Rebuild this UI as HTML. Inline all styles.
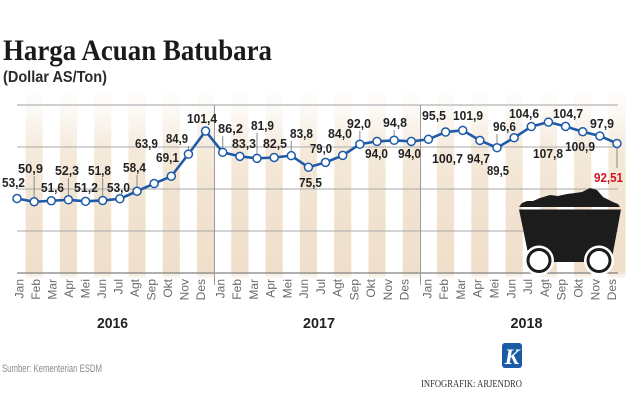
<!DOCTYPE html>
<html><head><meta charset="utf-8"><style>html,body{margin:0;padding:0;background:#fff}svg{display:block}</style></head>
<body>
<svg width="630" height="418" viewBox="0 0 630 418" xmlns="http://www.w3.org/2000/svg" font-family="'Liberation Sans', sans-serif">
<defs>
<linearGradient id="st" gradientUnits="userSpaceOnUse" x1="0" y1="92" x2="0" y2="278">
<stop offset="0" stop-color="#f6ecdf" stop-opacity="0.05"/>
<stop offset="0.15" stop-color="#f6ecdf" stop-opacity="0.5"/>
<stop offset="0.32" stop-color="#f4e7d6" stop-opacity="0.9"/>
<stop offset="0.55" stop-color="#f2e4d2"/>
<stop offset="0.96" stop-color="#efdfca"/>
<stop offset="1" stop-color="#efdfca" stop-opacity="0.2"/>
</linearGradient>
</defs>
<rect width="630" height="418" fill="#fff"/>

<!-- Title -->
<text x="3" y="60" font-family="'Liberation Serif', serif" font-weight="bold" font-size="30" fill="#1a1a1a" textLength="269" lengthAdjust="spacingAndGlyphs">Harga Acuan Batubara</text>
<text x="3" y="82" font-weight="bold" font-size="16" fill="#2a2a2a" textLength="104" lengthAdjust="spacingAndGlyphs">(Dollar AS/Ton)</text>

<!-- stripes -->
<g fill="url(#st)">
<rect x="25.57" y="92" width="17.14" height="186"/>
<rect x="59.86" y="92" width="17.14" height="186"/>
<rect x="94.14" y="92" width="17.14" height="186"/>
<rect x="128.43" y="92" width="17.14" height="186"/>
<rect x="162.72" y="92" width="17.14" height="186"/>
<rect x="197" y="92" width="17.14" height="186"/>
<rect x="231.29" y="92" width="17.14" height="186"/>
<rect x="265.57" y="92" width="17.14" height="186"/>
<rect x="299.86" y="92" width="17.14" height="186"/>
<rect x="334.14" y="92" width="17.14" height="186"/>
<rect x="368.43" y="92" width="17.14" height="186"/>
<rect x="402.72" y="92" width="17.14" height="186"/>
<rect x="437" y="92" width="17.14" height="186"/>
<rect x="471.29" y="92" width="17.14" height="186"/>
<rect x="505.57" y="92" width="17.14" height="186"/>
<rect x="539.86" y="92" width="17.14" height="186"/>
<rect x="574.14" y="92" width="17.14" height="186"/>
<rect x="608.43" y="92" width="17.14" height="186"/>
</g>

<!-- gridlines -->
<line x1="17" y1="105" x2="618" y2="105" stroke="#cfcfcf" stroke-width="2"/>
<line x1="17" y1="147" x2="618" y2="147" stroke="#a8a8a8" stroke-width="1"/>
<line x1="17" y1="189" x2="618" y2="189" stroke="#a8a8a8" stroke-width="1"/>
<line x1="17" y1="231" x2="618" y2="231" stroke="#a8a8a8" stroke-width="1"/>
<line x1="17" y1="273" x2="618" y2="273" stroke="#808080" stroke-width="1.2"/>

<!-- year dividers -->
<line x1="214.5" y1="105" x2="214.5" y2="285" stroke="#9a9a9a" stroke-width="1"/>
<line x1="420.5" y1="105" x2="420.5" y2="285" stroke="#9a9a9a" stroke-width="1"/>

<!-- leader lines -->
<g stroke="#8a8a8a" stroke-width="1">
<line x1="34.14" y1="176" x2="34.14" y2="197.5"/>
<line x1="68.43" y1="178" x2="68.43" y2="196"/>
<line x1="102.71" y1="178" x2="102.71" y2="196.5"/>
<line x1="137" y1="175" x2="137" y2="187"/>
<line x1="188.43" y1="146" x2="188.43" y2="150"/>
<line x1="222.71" y1="136" x2="222.71" y2="148"/>
<line x1="257" y1="133" x2="257" y2="154"/>
<line x1="291.29" y1="141" x2="291.29" y2="151.7"/>
<line x1="359.86" y1="131" x2="359.86" y2="140"/>
<line x1="394.14" y1="130" x2="394.14" y2="136"/>
<line x1="497" y1="134" x2="497" y2="143.7"/>
<line x1="617" y1="147.5" x2="617" y2="168"/>
</g>

<!-- series -->
<polyline fill="none" stroke="#1e5aa8" stroke-width="2.6" stroke-linejoin="round" points="17,198.52 34.14,201.74 51.29,200.76 68.43,199.78 85.57,201.32 102.71,200.48 119.86,198.8 137,191.24 154.14,183.54 171.29,176.26 188.43,154.14 205.57,131.04 222.71,152.32 239.86,156.38 257,158.34 274.14,157.5 291.29,155.68 308.43,167.3 325.57,162.4 342.71,155.4 359.86,144.2 377,141.4 394.14,140.28 411.29,141.4 428.43,139.3 445.57,132.02 462.71,130.34 479.86,140.42 497,147.7 514.14,137.76 531.29,126.56 548.43,122.08 565.57,126.42 582.71,131.74 599.86,135.94 617,143.49"/>
<g fill="#fff" stroke="#1e5aa8" stroke-width="1.5">
<circle cx="17" cy="198.52" r="4"/><circle cx="34.14" cy="201.74" r="4"/><circle cx="51.29" cy="200.76" r="4"/><circle cx="68.43" cy="199.78" r="4"/><circle cx="85.57" cy="201.32" r="4"/><circle cx="102.71" cy="200.48" r="4"/><circle cx="119.86" cy="198.8" r="4"/><circle cx="137" cy="191.24" r="4"/><circle cx="154.14" cy="183.54" r="4"/><circle cx="171.29" cy="176.26" r="4"/><circle cx="188.43" cy="154.14" r="4"/><circle cx="205.57" cy="131.04" r="4"/>
<circle cx="222.71" cy="152.32" r="4"/><circle cx="239.86" cy="156.38" r="4"/><circle cx="257" cy="158.34" r="4"/><circle cx="274.14" cy="157.5" r="4"/><circle cx="291.29" cy="155.68" r="4"/><circle cx="308.43" cy="167.3" r="4"/><circle cx="325.57" cy="162.4" r="4"/><circle cx="342.71" cy="155.4" r="4"/><circle cx="359.86" cy="144.2" r="4"/><circle cx="377" cy="141.4" r="4"/><circle cx="394.14" cy="140.28" r="4"/><circle cx="411.29" cy="141.4" r="4"/>
<circle cx="428.43" cy="139.3" r="4"/><circle cx="445.57" cy="132.02" r="4"/><circle cx="462.71" cy="130.34" r="4"/><circle cx="479.86" cy="140.42" r="4"/><circle cx="497" cy="147.7" r="4"/><circle cx="514.14" cy="137.76" r="4"/><circle cx="531.29" cy="126.56" r="4"/><circle cx="548.43" cy="122.08" r="4"/><circle cx="565.57" cy="126.42" r="4"/><circle cx="582.71" cy="131.74" r="4"/><circle cx="599.86" cy="135.94" r="4"/><circle cx="617" cy="143.49" r="4"/>
</g>

<!-- data labels -->
<g font-weight="bold" font-size="12.5" fill="#222">
<text x="2" y="187" textLength="23" lengthAdjust="spacingAndGlyphs">53,2</text>
<text x="18" y="173" textLength="25" lengthAdjust="spacingAndGlyphs">50,9</text>
<text x="41" y="192" textLength="23" lengthAdjust="spacingAndGlyphs">51,6</text>
<text x="55" y="175" textLength="24" lengthAdjust="spacingAndGlyphs">52,3</text>
<text x="74" y="192" textLength="24" lengthAdjust="spacingAndGlyphs">51,2</text>
<text x="88" y="175" textLength="23" lengthAdjust="spacingAndGlyphs">51,8</text>
<text x="107" y="192" textLength="23" lengthAdjust="spacingAndGlyphs">53,0</text>
<text x="123" y="172" textLength="23" lengthAdjust="spacingAndGlyphs">58,4</text>
<text x="135" y="148" textLength="23" lengthAdjust="spacingAndGlyphs">63,9</text>
<text x="156" y="162" textLength="23" lengthAdjust="spacingAndGlyphs">69,1</text>
<text x="166" y="143" textLength="22" lengthAdjust="spacingAndGlyphs">84,9</text>
<text x="187" y="123" textLength="30" lengthAdjust="spacingAndGlyphs">101,4</text>
<text x="218" y="133" textLength="25" lengthAdjust="spacingAndGlyphs">86,2</text>
<text x="232" y="148" textLength="24" lengthAdjust="spacingAndGlyphs">83,3</text>
<text x="251" y="130" textLength="23" lengthAdjust="spacingAndGlyphs">81,9</text>
<text x="263" y="148" textLength="24" lengthAdjust="spacingAndGlyphs">82,5</text>
<text x="290" y="138" textLength="23" lengthAdjust="spacingAndGlyphs">83,8</text>
<text x="299" y="187" textLength="23" lengthAdjust="spacingAndGlyphs">75,5</text>
<text x="310" y="153" textLength="22" lengthAdjust="spacingAndGlyphs">79,0</text>
<text x="328" y="138" textLength="24" lengthAdjust="spacingAndGlyphs">84,0</text>
<text x="347" y="128" textLength="24" lengthAdjust="spacingAndGlyphs">92,0</text>
<text x="365" y="158" textLength="23" lengthAdjust="spacingAndGlyphs">94,0</text>
<text x="383" y="127" textLength="24" lengthAdjust="spacingAndGlyphs">94,8</text>
<text x="398" y="158" textLength="23" lengthAdjust="spacingAndGlyphs">94,0</text>
<text x="422" y="120" textLength="24" lengthAdjust="spacingAndGlyphs">95,5</text>
<text x="453" y="120" textLength="30" lengthAdjust="spacingAndGlyphs">101,9</text>
<text x="432" y="163" textLength="31" lengthAdjust="spacingAndGlyphs">100,7</text>
<text x="467" y="163" textLength="23" lengthAdjust="spacingAndGlyphs">94,7</text>
<text x="493" y="131" textLength="23" lengthAdjust="spacingAndGlyphs">96,6</text>
<text x="487" y="175" textLength="22" lengthAdjust="spacingAndGlyphs">89,5</text>
<text x="509" y="118" textLength="30" lengthAdjust="spacingAndGlyphs">104,6</text>
<text x="553" y="118" textLength="30" lengthAdjust="spacingAndGlyphs">104,7</text>
<text x="533" y="158" textLength="30" lengthAdjust="spacingAndGlyphs">107,8</text>
<text x="565" y="151" textLength="30" lengthAdjust="spacingAndGlyphs">100,9</text>
<text x="590" y="128" textLength="24" lengthAdjust="spacingAndGlyphs">97,9</text>
</g>

<!-- coal cart -->
<g>
<path d="M519,207 L522,203 L527,201 L533,201 L540,198 L550,195 L558,196 L567,194 L575,193 L582,192 L590,188 L597,190 L603,197 L609,200 L613,202 L618,204 L620,207 Z" fill="#1c1c1c"/>
<path d="M519,209.5 L621,209.5 L612,258 Q611,262 606,262 L535,262 Q530,262 529,258 Z" fill="#1c1c1c"/>
<circle cx="539" cy="260.5" r="15" fill="#fff"/>
<circle cx="599" cy="260.5" r="15" fill="#fff"/>
<circle cx="539" cy="260.5" r="11" fill="#fff" stroke="#1c1c1c" stroke-width="3"/>
<circle cx="599" cy="260.5" r="11" fill="#fff" stroke="#1c1c1c" stroke-width="3"/>
</g>

<text x="594" y="182" font-weight="bold" font-size="12.5" fill="#d0141e" textLength="29" lengthAdjust="spacingAndGlyphs">92,51</text>

<!-- month labels -->
<g font-size="12" fill="#6a6a6a" text-anchor="end">
<text transform="translate(23.3,279) rotate(-90)">Jan</text>
<text transform="translate(39.8,279) rotate(-90)">Feb</text>
<text transform="translate(56.3,279) rotate(-90)">Mar</text>
<text transform="translate(72.8,279) rotate(-90)">Apr</text>
<text transform="translate(89.3,279) rotate(-90)">Mei</text>
<text transform="translate(105.8,279) rotate(-90)">Jun</text>
<text transform="translate(122.3,279) rotate(-90)">Jul</text>
<text transform="translate(138.8,279) rotate(-90)">Agt</text>
<text transform="translate(155.3,279) rotate(-90)">Sep</text>
<text transform="translate(171.8,279) rotate(-90)">Okt</text>
<text transform="translate(188.3,279) rotate(-90)">Nov</text>
<text transform="translate(204.8,279) rotate(-90)">Des</text>
<text transform="translate(224.3,279) rotate(-90)">Jan</text>
<text transform="translate(241.05,279) rotate(-90)">Feb</text>
<text transform="translate(257.8,279) rotate(-90)">Mar</text>
<text transform="translate(274.55,279) rotate(-90)">Apr</text>
<text transform="translate(291.3,279) rotate(-90)">Mei</text>
<text transform="translate(308.05,279) rotate(-90)">Jun</text>
<text transform="translate(324.8,279) rotate(-90)">Jul</text>
<text transform="translate(341.55,279) rotate(-90)">Agt</text>
<text transform="translate(358.3,279) rotate(-90)">Sep</text>
<text transform="translate(375.05,279) rotate(-90)">Okt</text>
<text transform="translate(391.8,279) rotate(-90)">Nov</text>
<text transform="translate(408.55,279) rotate(-90)">Des</text>
<text transform="translate(431.3,279) rotate(-90)">Jan</text>
<text transform="translate(448.1,279) rotate(-90)">Feb</text>
<text transform="translate(464.9,279) rotate(-90)">Mar</text>
<text transform="translate(481.7,279) rotate(-90)">Apr</text>
<text transform="translate(498.5,279) rotate(-90)">Mei</text>
<text transform="translate(515.3,279) rotate(-90)">Jun</text>
<text transform="translate(532.1,279) rotate(-90)">Jul</text>
<text transform="translate(548.9,279) rotate(-90)">Agt</text>
<text transform="translate(565.7,279) rotate(-90)">Sep</text>
<text transform="translate(582.5,279) rotate(-90)">Okt</text>
<text transform="translate(599.3,279) rotate(-90)">Nov</text>
<text transform="translate(616.1,279) rotate(-90)">Des</text>
</g>

<!-- year labels -->
<g font-weight="bold" font-size="15" fill="#222" text-anchor="middle">
<text x="112.5" y="328" textLength="31" lengthAdjust="spacingAndGlyphs">2016</text>
<text x="319" y="328" textLength="32" lengthAdjust="spacingAndGlyphs">2017</text>
<text x="526.5" y="328" textLength="32" lengthAdjust="spacingAndGlyphs">2018</text>
</g>

<!-- footer -->
<text x="2" y="372" font-size="11" fill="#8a8a8a" textLength="100" lengthAdjust="spacingAndGlyphs">Sumber: Kementerian ESDM</text>
<rect x="502" y="343" width="20" height="25" rx="3" fill="#1b5ba6"/>
<text x="512" y="364" font-family="'Liberation Serif', serif" font-weight="bold" font-style="italic" font-size="22" fill="#fff" text-anchor="middle">K</text>
<text x="421" y="387" font-family="'Liberation Serif', serif" font-size="10.5" fill="#333" textLength="101" lengthAdjust="spacingAndGlyphs">INFOGRAFIK: ARJENDRO</text>
</svg>
</body></html>
